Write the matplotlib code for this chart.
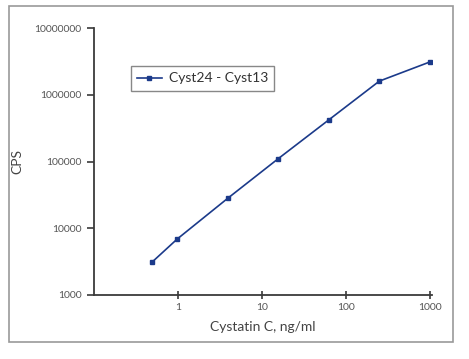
import matplotlib
matplotlib.use("Agg")
import matplotlib.pyplot as plt
from matplotlib.patches import Rectangle

# Cystatin C calibration (fourfold dilution series)
conc = [0.49, 0.98, 3.9, 15.6, 62.5, 250, 1000]
cps = [3100, 6900, 28000, 110000, 420000, 1600000, 3100000]
series_name = "Cyst24 - Cyst13"

x_ticks = [1, 10, 100, 1000]
x_tick_labels = ["1", "10", "100", "1000"]
y_ticks = [1000, 10000, 100000, 1000000, 10000000]
y_tick_labels = ["1000", "10000", "100000", "1000000", "10000000"]

plt.rcParams['font.family'] = ['Lato', 'DejaVu Sans']

fig = plt.figure(figsize=(4.69, 3.59), dpi=100)
# outer gray frame
fig.patches.append(Rectangle((9 / 469, 1 - 342 / 359), 444 / 469, 336 / 359,
                             transform=fig.transFigure, fill=False,
                             edgecolor='#999999', linewidth=1.2))

ax = fig.add_axes([94 / 469, 1 - 295 / 359, 338 / 469, 267 / 359])
ax.plot(conc, cps, color='#1b3a8a', marker='s', markersize=3.5, linewidth=1.2,
        label=series_name)
ax.set_xscale('log')
ax.set_yscale('log')
ax.set_xlim(0.1, 1060)
ax.set_ylim(1000, 10000000)

ax.set_xticks(x_ticks)
ax.set_xticklabels(x_tick_labels)
ax.set_yticks(y_ticks)
ax.set_yticklabels(y_tick_labels)
ax.minorticks_off()

for s in ['top', 'right']:
    ax.spines[s].set_visible(False)
for s in ['left', 'bottom']:
    ax.spines[s].set_color('#3a3a3a')
    ax.spines[s].set_linewidth(1.3)

ax.tick_params(axis='y', direction='out', length=5, width=1.2, color='#3a3a3a',
               labelsize=7.5, labelcolor='#555555', pad=4)
ax.tick_params(axis='x', direction='inout', length=6, width=1.2, color='#3a3a3a',
               labelsize=7.5, labelcolor='#555555', pad=3)

ax.set_xlabel("Cystatin C, ng/ml", fontsize=10, color='#444444', labelpad=6)
ax.set_ylabel("CPS", fontsize=10, color='#444444', labelpad=8)

leg = ax.legend(loc='upper left', bbox_to_anchor=(0.108, 0.857), fontsize=10,
                fancybox=False, edgecolor='#888888', framealpha=1,
                handlelength=1.8, handletextpad=0.5, borderpad=0.45,
                borderaxespad=0, labelcolor='#333333')
leg.get_frame().set_linewidth(1.0)

fig.savefig("out.png", dpi=100)
